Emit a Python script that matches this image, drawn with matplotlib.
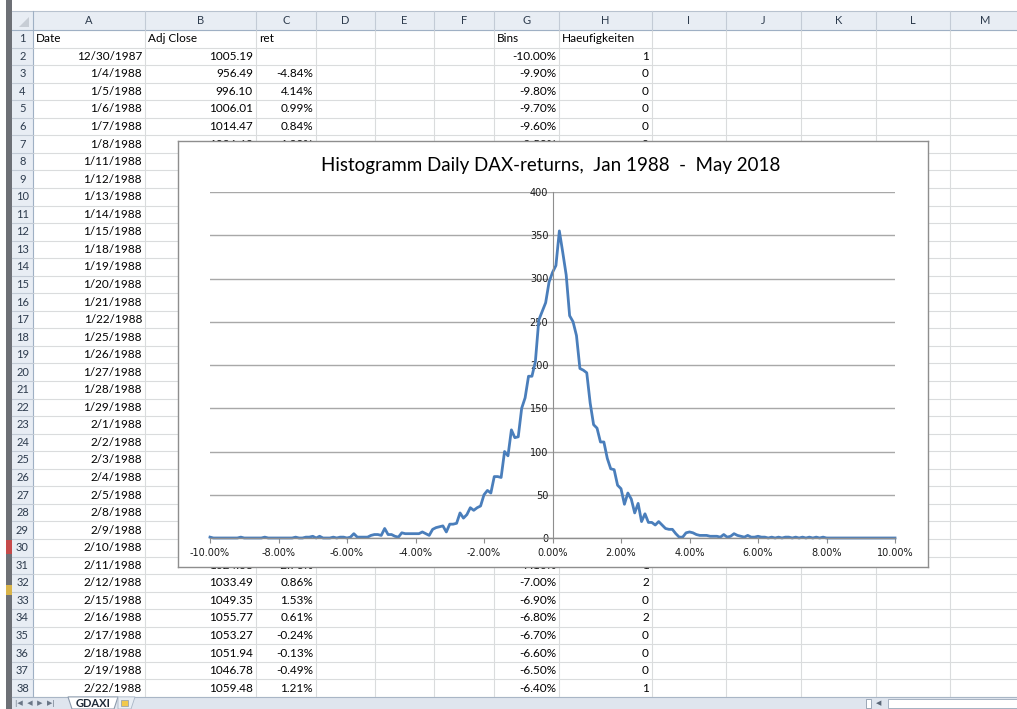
import numpy as np
import matplotlib
matplotlib.use("Agg")
import matplotlib.pyplot as plt
from matplotlib.patches import Rectangle, Polygon

# ---------------- data ----------------
# histogram counts, bins -10.0% .. 10.0% in 0.1% steps
counts = [
    1, 0, 0, 0, 0, 0, 0, 0, 0, 1,            # -10.0 .. -9.1
    0, 0, 0, 0, 0, 0, 1, 0, 0, 0,            # -9.0 .. -8.1
    0, 0, 0, 0, 0, 1, 0, 0, 1, 1,            # -8.0 .. -7.1
    2, 0, 2, 0, 0, 0, 1, 0, 1, 1,            # -7.0 .. -6.1
    0, 1, 5, 1, 1, 1, 1, 3, 4, 4,            # -6.0 .. -5.1
    3, 11, 4, 4, 2, 1, 6, 5, 5, 5,           # -5.0 .. -4.1
    5, 5, 7, 5, 3, 10, 12, 13, 14, 7,        # -4.0 .. -3.1
    16, 16, 17, 29, 23, 27, 35, 32, 35, 37,  # -3.0 .. -2.1
    50, 55, 52, 71, 71, 70, 100, 95, 125, 116,      # -2.0 .. -1.1
    117, 150, 162, 187, 187, 204, 252, 262, 272, 296,  # -1.0 .. -0.1
    307, 315, 355, 330, 304, 257, 250, 234, 196, 194,  # 0.0 .. 0.9
    191, 156, 131, 127, 111, 111, 92, 80, 79, 61,   # 1.0 .. 1.9
    57, 39, 52, 45, 29, 40, 19, 28, 18, 18,  # 2.0 .. 2.9
    15, 19, 15, 11, 10, 10, 5, 1, 1, 6,      # 3.0 .. 3.9
    7, 6, 4, 3, 3, 3, 2, 2, 2, 1,            # 4.0 .. 4.9
    4, 1, 2, 5, 3, 2, 1, 3, 1, 1,            # 5.0 .. 5.9
    2, 1, 1, 0, 1, 0, 1, 0, 1, 1,            # 6.0 .. 6.9
    0, 1, 0, 1, 0, 1, 0, 1, 0, 1,            # 7.0 .. 7.9
    0, 0, 0, 0, 0, 0, 0, 0, 0, 0,            # 8.0 .. 8.9
    0, 0, 0, 0, 0, 0, 0, 0, 0, 0, 0,         # 9.0 .. 10.0
]
bins = np.round(np.arange(-100, 101) / 10.0, 1)

# spreadsheet contents (rows 2..38)
dates = ["12/30/1987", "1/4/1988", "1/5/1988", "1/6/1988", "1/7/1988", "1/8/1988",
         "1/11/1988", "1/12/1988", "1/13/1988", "1/14/1988", "1/15/1988", "1/18/1988",
         "1/19/1988", "1/20/1988", "1/21/1988", "1/22/1988", "1/25/1988", "1/26/1988",
         "1/27/1988", "1/28/1988", "1/29/1988", "2/1/1988", "2/2/1988", "2/3/1988",
         "2/4/1988", "2/5/1988", "2/8/1988", "2/9/1988", "2/10/1988", "2/11/1988",
         "2/12/1988", "2/15/1988", "2/16/1988", "2/17/1988", "2/18/1988", "2/19/1988",
         "2/22/1988"]
# visible close / ret values by row number
adj_close = {2: "1005.19", 3: "956.49", 4: "996.10", 5: "1006.01", 6: "1014.47",
             7: "1026.69", 31: "1024.68", 32: "1033.49", 33: "1049.35", 34: "1055.77",
             35: "1053.27", 36: "1051.94", 37: "1046.78", 38: "1059.48"}
rets = {3: "-4.84%", 4: "4.14%", 5: "0.99%", 6: "0.84%", 7: "1.20%", 31: "-2.76%",
        32: "0.86%", 33: "1.53%", 34: "0.61%", 35: "-0.24%", 36: "-0.13%",
        37: "-0.49%", 38: "1.21%"}
headers = {"A": "Date", "B": "Adj Close", "C": "ret", "G": "Bins", "H": "Haeufigkeiten"}

col_names = list("ABCDEFGHIJKLM")
col_edges = [33, 145, 256, 316, 375, 434, 494, 559, 652, 726, 801, 876, 950, 1030]

# ---------------- figure ----------------
W, H = 1017, 709
fig = plt.figure(figsize=(W / 100, H / 100), dpi=100)
bg = fig.add_axes([0, 0, 1, 1])
bg.set_xlim(0, W)
bg.set_ylim(H, 0)
bg.axis("off")

sheet_font = "Lato"
hdr_fill = "#e8edf4"
hdr_line = "#c3cbd6"
grid_col = "#dadcdd"

top, row_h = 30, 17.55
n_rows = 38

# cell grid
for i in range(n_rows + 1):
    y = top + i * row_h
    bg.plot([33, W], [y, y], color=grid_col, lw=0.8, zorder=1)
for x in col_edges[1:-1]:
    bg.plot([x, x], [top, top + n_rows * row_h], color=grid_col, lw=0.8, zorder=1)

# column headers
bg.add_patch(Rectangle((12, 11), W - 12, top - 11, facecolor=hdr_fill, edgecolor="none", zorder=2))
bg.plot([12, W], [11, 11], color="#b8c2cf", lw=0.8, zorder=3)
bg.plot([12, W], [top, top], color="#9fb0c4", lw=0.8, zorder=3)
for name, x0, x1 in zip(col_names, col_edges[:-1], col_edges[1:]):
    bg.plot([x1, x1], [11, top], color=hdr_line, lw=0.8, zorder=3)
    bg.text((x0 + x1) / 2 if name != "M" else 985, 21, name,
            ha="center", va="center", fontsize=8, family=sheet_font, color="#2d3b4d", zorder=4)

# row headers
bg.add_patch(Rectangle((12, top), 21, H - top, facecolor=hdr_fill, edgecolor="none", zorder=2))
bg.plot([33, 33], [11, top + n_rows * row_h], color="#9fb0c4", lw=0.8, zorder=3)
for r in range(1, n_rows + 1):
    y0 = top + (r - 1) * row_h
    bg.plot([12, 33], [y0 + row_h, y0 + row_h], color=hdr_line, lw=0.8, zorder=3)
    bg.text(22.5, y0 + row_h / 2, str(r), ha="center", va="center", fontsize=8,
            family=sheet_font, color="#2d3b4d", zorder=4)
bg.add_patch(Polygon([[29, 17], [29, 27], [19, 27]], closed=True, facecolor="#c7cdd5",
                     edgecolor="none", zorder=4))

# left window strip
bg.add_patch(Rectangle((6, 0), 6, H, facecolor="#6d7076", edgecolor="none", zorder=2))
bg.add_patch(Rectangle((6, 540), 6, 14, facecolor="#c54a4a", edgecolor="none", zorder=3))
bg.add_patch(Rectangle((6, 585), 6, 10, facecolor="#d9b44a", edgecolor="none", zorder=3))

# chart frame in pixels; cells fully under it are not drawn
chart_x0, chart_y0, chart_x1, chart_y1 = 178, 141, 928, 567


def cell(col, row, text, align="right"):
    ci = col_names.index(col)
    x0, x1 = col_edges[ci], col_edges[ci + 1]
    y = top + (row - 0.5) * row_h
    if x0 >= chart_x0 and top + (row - 1) * row_h >= chart_y0 and top + row * row_h <= chart_y1:
        return
    if align == "right":
        bg.text(x1 - 3, y, text, ha="right", va="center", fontsize=8.5,
                family=sheet_font, color="black", zorder=5)
    else:
        bg.text(x0 + 3, y, text, ha="left", va="center", fontsize=8.5,
                family=sheet_font, color="black", zorder=5)


for col, txt in headers.items():
    cell(col, 1, txt, align="left")
for i, d in enumerate(dates):
    cell("A", i + 2, d)
for r, v in adj_close.items():
    cell("B", r, v)
for r, v in rets.items():
    cell("C", r, v)
for r in range(2, n_rows + 1):
    cell("G", r, "%.2f%%" % bins[r - 2])
    cell("H", r, str(counts[r - 2]))

# sheet tab bar
bar_y = top + n_rows * row_h
bg.add_patch(Rectangle((12, bar_y), W - 12, H - bar_y, facecolor="#dfe5ee", edgecolor="none", zorder=6))
bg.plot([12, W], [bar_y, bar_y], color="#a9b6c6", lw=0.8, zorder=7)
bg.text(15, bar_y + 6.5, "|◀  ◀  ▶  ▶|", ha="left", va="center", fontsize=5,
        color="#6a7686", family="DejaVu Sans", zorder=7)
bg.add_patch(Polygon([[68, bar_y], [118, bar_y], [114, H], [72, H]], closed=True,
                     facecolor="white", edgecolor="#8d9bad", lw=0.8, zorder=7))
bg.text(93, bar_y + 6.5, "GDAXI", ha="center", va="center", fontsize=8,
        family=sheet_font, weight="bold", color="#1e2a38", zorder=8)
bg.add_patch(Polygon([[118, bar_y], [135, bar_y], [131, H], [118, H]], closed=True,
                     facecolor="#e9eef4", edgecolor="#a9b6c6", lw=0.6, zorder=7))
bg.add_patch(Rectangle((121, bar_y + 3), 7, 6, facecolor="#f2c94c", edgecolor="#8d9bad", lw=0.5, zorder=8))
bg.add_patch(Rectangle((866, bar_y + 2), 5, 9, facecolor="white", edgecolor="#8d9bad", lw=0.6, zorder=7))
bg.text(879, bar_y + 6.5, "◀", ha="center", va="center", fontsize=5, color="#5a6676", zorder=7)
bg.add_patch(Rectangle((888, bar_y + 2), W - 886, 9, facecolor="white", edgecolor="#9aa7b8", lw=0.6, zorder=7))


# ---------------- chart ----------------
def fig_rect(x0, y0, x1, y1):
    return [x0 / W, 1 - y1 / H, (x1 - x0) / W, (y1 - y0) / H]


box = fig.add_axes(fig_rect(chart_x0, chart_y0, chart_x1, chart_y1))
box.set_zorder(5)
box.set_facecolor("white")
box.set_xticks([])
box.set_yticks([])
for s in box.spines.values():
    s.set_color("#8e8e8e")
    s.set_linewidth(1.0)
box.text(0.497, 0.943, "Histogramm Daily DAX-returns,  Jan 1988  -  May 2018",
         transform=box.transAxes, ha="center", va="center", fontsize=13.5,
         family="Lato", color="black")

ax = fig.add_axes(fig_rect(210, 192, 895, 538))
ax.set_zorder(6)
ax.patch.set_alpha(0)
ax.set_xlim(-10, 10)
ax.set_ylim(0, 400)
ax.set_yticks(range(0, 401, 50))
ax.set_xticks(range(-10, 11, 2))
ax.set_xticklabels(["%.2f%%" % v for v in range(-10, 11, 2)])
ax.yaxis.grid(True, color="#a8a8a8", lw=1.0)
ax.set_axisbelow(True)
for s in ["top", "right"]:
    ax.spines[s].set_visible(False)
ax.spines["left"].set_position(("data", 0))
ax.spines["left"].set_color("#8e8e8e")
ax.spines["bottom"].set_color("#8e8e8e")
ax.spines["bottom"].set_linewidth(1.0)
ax.tick_params(axis="x", length=3.5, width=0.8, color="#8e8e8e", pad=3.5,
               labelsize=7, labelcolor="#1a1a1a")
ax.tick_params(axis="y", length=0, pad=3, labelsize=7, labelcolor="#1a1a1a")
for lab in ax.get_xticklabels() + ax.get_yticklabels():
    lab.set_family("DejaVu Sans")

ax.plot(bins, counts, color="#4a7ebb", lw=2.0, solid_joinstyle="round", clip_on=False)

fig.savefig("out.png", dpi=100)
